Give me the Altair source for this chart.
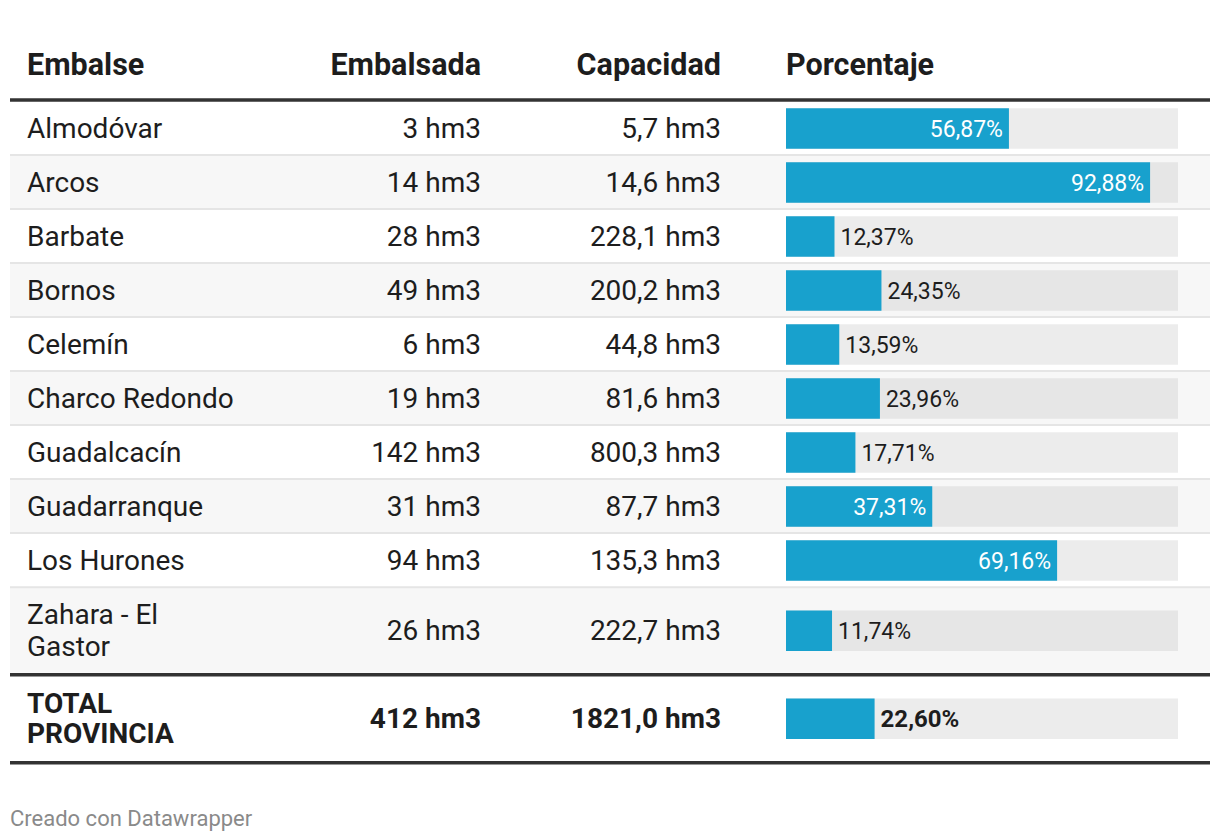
import altair as alt
import pandas as pd

# ---- data ----
embalses = ["Almodóvar", "Arcos", "Barbate", "Bornos", "Celemín", "Charco Redondo",
            "Guadalcacín", "Guadarranque", "Los Hurones", "Zahara - El\nGastor"]
embalsada = [3, 14, 28, 49, 6, 19, 142, 31, 94, 26]
capacidad = [5.7, 14.6, 228.1, 200.2, 44.8, 81.6, 800.3, 87.7, 135.3, 222.7]
porcentaje = [56.87, 92.88, 12.37, 24.35, 13.59, 23.96, 17.71, 37.31, 69.16, 11.74]
total_label = "TOTAL\nPROVINCIA"
total_embalsada = 412
total_capacidad = 1821.0
total_porcentaje = 22.60
headers = ["Embalse", "Embalsada", "Capacidad", "Porcentaje"]

# ---- layout ----
W, H = 1204, 826
OFF = 8          # page x of plot left edge
TOPY = 12.6      # observed page y of plot top
SY = 0.9875      # observed vertical factor
FONT = "Roboto"
BLUE = "#18a1cd"
DARK = "#1d1d1d"
BODY = 28
PCT = 23
HEAD = 30.5
FOOT = 22
BAR = 40 / SY


def cdy(fs):
    """shift so that cap height is centred on y with baseline=middle"""
    return 0.0555 * fs


def py(y):
    """page y -> plot y"""
    return (y - TOPY) / SY


def dec(v, n):
    return f"{v:.{n}f}".replace(".", ",")


row_tops = [101 + 54 * i for i in range(9)] + [587]
row_bots = [155 + 54 * i for i in range(9)] + [672]
recs = []
for i, name in enumerate(embalses):
    recs.append(dict(
        name=name,
        multi="\n" in name,
        emb=f"{embalsada[i]} hm3",
        cap=f"{dec(capacidad[i], 1)} hm3",
        pct=porcentaje[i],
        pct_lbl=f"{dec(porcentaje[i], 2)}%",
        full=100,
        top=py(row_tops[i]),
        bot=py(row_bots[i]),
        yc=py(128 + 54 * i) if i < 9 else py(630.2),
        bg="#f7f7f7" if i % 2 == 1 else "#ffffff",
        track="#e6e6e6" if i % 2 == 1 else "#ececec",
        total=False,
    ))
recs.append(dict(
    name=total_label,
    multi=True,
    emb=f"{total_embalsada} hm3",
    cap=f"{dec(total_capacidad, 1)} hm3",
    pct=total_porcentaje,
    pct_lbl=f"{dec(total_porcentaje, 2)}%",
    full=100,
    top=py(676),
    bot=py(760),
    yc=py(718),
    bg="#ffffff",
    track="#ececec",
    total=True,
))
df = pd.DataFrame(recs)

yscale = alt.Scale(domain=[0, H], range=[0, H])
xscale = alt.Scale(domain=[0, 100], range=[786 - OFF, 1178 - OFF])
Y = alt.Y("yc:Q", scale=yscale, axis=None)

base = alt.Chart(df)

bg = base.mark_rect().encode(
    x=alt.value(2), x2=alt.value(1202),
    y=alt.Y("top:Q", scale=yscale, axis=None), y2="bot:Q",
    color=alt.Color("bg:N", scale=None),
)

sep_df = pd.DataFrame({"y": [py(154.5 + 54 * i) for i in range(9)]})
seps = alt.Chart(sep_df).mark_rule(color="#e5e5e5", strokeWidth=2).encode(
    x=alt.value(2), x2=alt.value(1202), y=alt.Y("y:Q", scale=yscale, axis=None)
)

thick_df = pd.DataFrame({"y": [py(99.5), py(674), py(762)]})
thick = alt.Chart(thick_df).mark_rule(color="#333333", strokeWidth=3.5).encode(
    x=alt.value(2), x2=alt.value(1202), y=alt.Y("y:Q", scale=yscale, axis=None)
)

track = base.mark_bar(orient="horizontal", size=BAR).encode(
    x=alt.X("full:Q", scale=xscale, axis=None), y=Y,
    color=alt.Color("track:N", scale=None),
)
bars = base.mark_bar(orient="horizontal", size=BAR, color=BLUE).encode(
    x=alt.X("pct:Q", scale=xscale, axis=None), y=Y,
)

inside = base.transform_filter("datum.pct >= 30").mark_text(
    align="right", baseline="middle", dx=-6, dy=cdy(PCT), color="white",
    font=FONT, fontSize=PCT
).encode(x=alt.X("pct:Q", scale=xscale, axis=None), y=Y, text="pct_lbl:N")
outside = base.transform_filter("datum.pct < 30 && !datum.total").mark_text(
    align="left", baseline="middle", dx=6, dy=cdy(PCT), color=DARK,
    font=FONT, fontSize=PCT
).encode(x=alt.X("pct:Q", scale=xscale, axis=None), y=Y, text="pct_lbl:N")
outside_tot = base.transform_filter("datum.total").mark_text(
    align="left", baseline="middle", dx=6, dy=cdy(PCT + 1), color=DARK,
    font=FONT, fontSize=PCT + 1, fontWeight="bold"
).encode(x=alt.X("pct:Q", scale=xscale, axis=None), y=Y, text="pct_lbl:N")


def col_text(field, xpx, align, total, flt_extra=None, multi=False):
    flt = "datum.total" if total else "!datum.total"
    if flt_extra:
        flt = f"({flt}) && ({flt_extra})"
    lh = (30 if total else 31.5) / SY
    dy = cdy(BODY) - (lh / 2 if multi else 0)
    return base.transform_filter(flt).mark_text(
        align=align, baseline="middle", font=FONT, fontSize=BODY, color=DARK,
        lineBreak="\n", lineHeight=lh, fontWeight="bold" if total else "normal", dy=dy,
    ).encode(x=alt.value(xpx), y=Y, text=f"{field}:N")


texts = []
for total in (False, True):
    texts.append(col_text("name", 27 - OFF, "left", total, "!datum.multi", False))
    texts.append(col_text("name", 27 - OFF, "left", total, "datum.multi", True))
    texts.append(col_text("emb", 481 - OFF, "right", total))
    texts.append(col_text("cap", 721 - OFF, "right", total))

hdr_df = pd.DataFrame({
    "h": headers,
    "x": [27 - OFF, 481 - OFF, 721 - OFF, 786 - OFF],
    "a": ["left", "right", "right", "left"],
    "y": [py(63.5)] * 4,
})
hdr_layers = []
for i, h in enumerate(headers):
    hdr_layers.append(
        alt.Chart(hdr_df.iloc[[i]]).mark_text(
            align=hdr_df["a"][i], baseline="middle", font=FONT, fontSize=HEAD,
            fontWeight="bold", color=DARK, dy=cdy(HEAD),
        ).encode(x=alt.value(float(hdr_df["x"][i])),
                 y=alt.Y("y:Q", scale=yscale, axis=None), text="h:N")
    )

foot_df = pd.DataFrame({"t": ["Creado con Datawrapper"], "y": [py(817)]})
foot = alt.Chart(foot_df).mark_text(
    align="left", baseline="middle", font=FONT, fontSize=FOOT, color="#8a8a8a",
    dy=cdy(FOOT),
).encode(x=alt.value(10 - OFF), y=alt.Y("y:Q", scale=yscale, axis=None), text="t:N")

chart = alt.layer(
    bg, seps, thick, track, bars, inside, outside, outside_tot, *texts, *hdr_layers, foot
).properties(
    width=W, height=H, padding=0,
    autosize=alt.AutoSizeParams(type="none"),
).configure_view(stroke=None)

chart.save("out.html", embed_options={"renderer": "svg", "actions": False})
